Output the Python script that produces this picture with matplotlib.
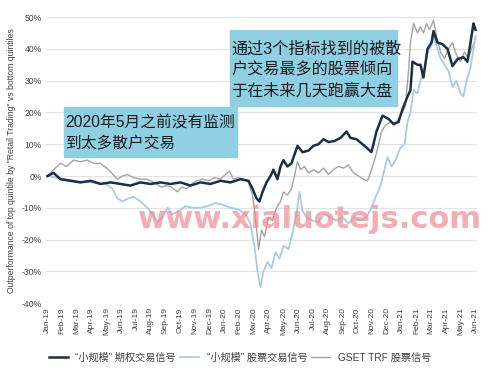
import matplotlib
matplotlib.use("Agg")
import matplotlib.pyplot as plt
from matplotlib.patches import Rectangle

plt.rcParams['font.family'] = ['Liberation Sans', 'Noto Sans CJK SC', 'DejaVu Sans']

# x positions are months since Jan-2019 (0 = Jan-19, 29 = Jun-21), values in %
months = ["Jan-19", "Feb-19", "Mar-19", "Apr-19", "May-19", "Jun-19", "Jul-19", "Aug-19",
          "Sep-19", "Oct-19", "Nov-19", "Dec-19", "Jan-20", "Feb-20", "Mar-20", "Apr-20",
          "May-20", "Jun-20", "Jul-20", "Aug-20", "Sep-20", "Oct-20", "Nov-20", "Dec-20",
          "Jan-21", "Feb-21", "Mar-21", "Apr-21", "May-21", "Jun-21"]

options_t = [0, 0.41, 0.88, 1.56, 2.24, 2.91, 3.59, 4.27, 4.95, 5.62, 6.30, 6.98, 7.66, 8.33,
             9.01, 9.69, 10.37, 11.04, 11.72, 12.40, 13.08, 13.62, 13.89, 14.16, 14.36, 14.57,
             14.84, 15.11, 15.31, 15.58, 15.79, 15.99, 16.26, 16.53, 16.94, 17.28, 17.68,
             18.02, 18.36, 18.70, 19.04, 19.44, 19.85, 20.26, 20.53, 20.93, 21.61, 21.95,
             22.29, 22.70, 23.10, 23.44, 23.78, 24.05, 24.39, 24.59, 24.73, 25.07, 25.27,
             25.47, 25.75, 26.02, 26.15, 26.42, 26.76, 27.10, 27.44, 27.78, 28.18, 28.45,
             28.66, 28.86, 28.93, 29.00]
options_v = [0, 1, -1, -1.5, -2, -1.5, -2.5, -2, -2.5, -3, -2, -2.5, -2, -2.5,
             -2, -3, -2, -2.5, -1.5, -2, -1, -1.5, -4, -7, -8, -5,
             -2, 0, 2, -1, 3, 5, 3, 4, 9.5, 7.5, 8,
             9.5, 10, 11.6, 10.7, 11, 12, 14, 12, 11.6, 9, 7.5,
             14, 19, 18, 16.4, 17, 21, 25, 27, 36, 35, 35,
             31, 40, 42, 45.6, 42, 41.5, 40, 34.6, 36.8, 37.4, 36,
             42, 48, 47, 46]

stock_t = [0, 0.54, 1.22, 1.90, 2.57, 3.25, 3.93, 4.40, 4.74, 5.08, 5.49, 5.83, 6.30, 6.78,
           7.11, 7.45, 7.79, 8.13, 8.47, 8.88, 9.35, 9.82, 10.37, 10.84, 11.38, 11.86, 12.40,
           12.94, 13.41, 13.75, 14.02, 14.23, 14.43, 14.63, 14.91, 15.18, 15.45, 15.72, 15.99,
           16.33, 16.60, 16.87, 17.07, 17.28, 17.55, 17.95, 18.36, 18.77, 19.17, 19.58,
           19.99, 20.39, 20.80, 21.21, 21.61, 21.95, 22.29, 22.56, 22.83, 23.04, 23.31,
           23.58, 23.92, 24.19, 24.39, 24.59, 24.80, 25.07, 25.27, 25.54, 25.75, 26.02,
           26.15, 26.42, 26.63, 26.90, 27.17, 27.44, 27.71, 27.98, 28.18, 28.39, 28.66,
           28.86, 29.00]
stock_v = [0, -0.5, -1, -1.5, -2, -2, -2.5, -4, -7, -8, -7, -6.5, -8, -10,
           -12, -14.5, -13, -10, -12, -11, -9.5, -10, -10, -9.5, -8.5, -9, -10,
           -10.5, -12, -15, -22, -30, -35, -30, -27, -29, -24, -26, -22,
           -23, -18, -12, -5, -11, -13, -14, -14.5, -12, -13, -14,
           -13, -15, -13, -14, -13, -10, -6, -3, 2, 6, 3,
           5, 9, 10, 17, 20, 27, 26, 30, 34, 39, 41,
           44, 40, 37, 35, 33, 28, 30, 26, 25, 30, 34,
           40, 44]

trf_t = [0, 0.41, 0.88, 1.29, 1.76, 2.24, 2.71, 3.12, 3.59, 4.00, 4.34, 4.74, 5.08, 5.42,
         5.83, 6.30, 6.71, 6.98, 7.38, 7.72, 8.06, 8.40, 8.81, 9.08, 9.42, 9.76, 10.09,
         10.50, 10.91, 11.31, 11.72, 12.06, 12.33, 12.60, 12.94, 13.28, 13.62, 13.89,
         14.09, 14.30, 14.50, 14.70, 14.97, 15.24, 15.51, 15.79, 15.99, 16.26, 16.53,
         16.73, 16.94, 17.14, 17.41, 17.68, 18.02, 18.36, 18.70, 19.04, 19.38, 19.72,
         20.05, 20.39, 20.73, 21.07, 21.41, 21.68, 21.95, 22.22, 22.43, 22.63, 22.90,
         23.24, 23.51, 23.78, 24.05, 24.25, 24.46, 24.59, 24.80, 25.07, 25.27, 25.47,
         25.68, 25.88, 26.15, 26.36, 26.63, 26.90, 27.17, 27.44, 27.71, 27.98, 28.25,
         28.52, 28.73, 29.00]
trf_v = [0, 2, 4, 3, 5, 4.5, 5, 4, 4, 2.5, 1, -1, 0, 0.5,
         -0.5, -1, -1, -1.5, -2.5, -3.5, -3, -3.5, -5, -3.5, -4, -2.5, -1.5,
         -1, -1.5, -0.5, -1, 0.5, 1.5, -1, -0.5, -1, -2, -6,
         -13, -23, -17, -19, -13, -14, -10, -8, -5, -6, -4,
         0, 4.5, 2, 3, 1, 2, 1, 2.5, 0.5, 2, 3,
         2.5, 3.5, 1, 0, -1, -1.5, 2, 6, 10, 14, 16,
         17, 16, 18, 20, 22, 33, 42, 48, 45, 47, 45,
         48, 46, 49, 44, 39, 37, 40, 42, 38, 36, 39,
         37, 40, 43]

labels = ["“小规模” 期权交易信号", "“小规模” 股票交易信号", "GSET TRF 股票信号"]
box1_text = "2020年5月之前没有监测\n到太多散户交易"
box2_text = "通过3个指标找到的被散\n户交易最多的股票倾向\n于在未来几天跑赢大盘"

fig = plt.figure(figsize=(5, 3.72), dpi=100)
ax = fig.add_axes([0.092, 0.185, 0.862, 0.769])

l3, = ax.plot(trf_t, trf_v, color="#a3a3a3", lw=1.0, zorder=2)
l2, = ax.plot(stock_t, stock_v, color="#a9cce4", lw=1.3, zorder=3)
l1, = ax.plot(options_t, options_v, color="#1b2f47", lw=1.8, zorder=4)

ax.set_ylim(-40, 50)
ax.set_xlim(-0.1, 29.1)
ax.set_yticks(range(-40, 51, 10))
ax.set_yticklabels([f"{v}%" for v in range(-40, 51, 10)], fontsize=6.2, color="#404040")
ax.set_xticks(range(len(months)))
ax.set_xticklabels(months, rotation=90, fontsize=6, color="#404040")
ax.tick_params(length=0, pad=3)
ax.grid(axis="y", color="#e3e3e3", lw=0.9)
ax.set_axisbelow(True)
for s in ax.spines.values():
    s.set_visible(False)
ax.set_ylabel("Outperformance of top quintile by \"Retail Trading\" vs bottom quintiles",
              fontsize=6.2, color="#404040", labelpad=4)

# annotation boxes (figure pixel coords)
fig.patches.append(Rectangle((64 / 500, 1 - 157 / 372), 173 / 500, 50 / 372,
                             transform=fig.transFigure, color="#8fcfe3", zorder=5))
fig.text(65 / 500, 1 - 133 / 372, box1_text, fontsize=11.3, va="center", ha="left",
         linespacing=1.5, color="#1a1a1a", zorder=6)
fig.patches.append(Rectangle((230 / 500, 1 - 106 / 372), 167 / 500, 76 / 372,
                             transform=fig.transFigure, color="#8fcfe3", zorder=5))
fig.text(231 / 500, 1 - 70 / 372, box2_text, fontsize=11.6, va="center", ha="left",
         linespacing=1.45, color="#1a1a1a", zorder=6)

# watermark
fig.text(310 / 500, 1 - 219 / 372, "www.xialuotejs.com", fontsize=22, color="#f08a96",
         alpha=0.7, ha="center", va="center", family="DejaVu Sans", fontweight="bold",
         zorder=7)

ax.legend([l1, l2, l3], labels, loc="upper center", bbox_to_anchor=(0.45, -0.14), ncol=3,
          frameon=False, fontsize=7.3, handlelength=1.9, columnspacing=0.4,
          handletextpad=0.7, labelcolor="#404040")

fig.savefig("out.png", dpi=100)
